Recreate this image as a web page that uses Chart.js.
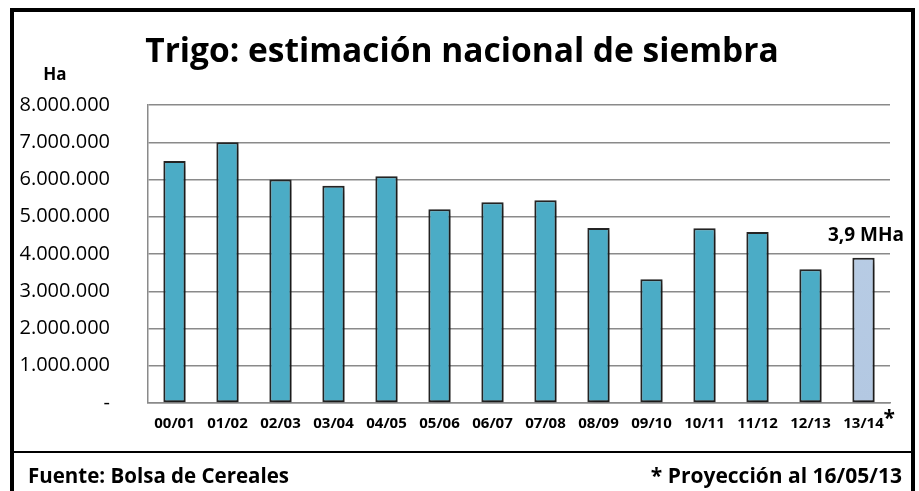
<!DOCTYPE html>
<html>
<head>
<meta charset="utf-8">
<script src="https://cdn.jsdelivr.net/npm/chart.js@4.4.1/dist/chart.umd.min.js"></script>
<style>
  html, body { margin: 0; padding: 0; background: #fff; }
  #wrap { position: relative; width: 919px; height: 491px; overflow: hidden; font-family: "Open Sans", sans-serif; }
  #frame { position: absolute; left: 10px; top: 8px; width: 897px; height: 500px; border: 4px solid #000; box-sizing: content-box; }
  #sep { position: absolute; left: 12px; top: 451px; width: 900px; height: 2px; background: #000; }
  #chartBox { position: absolute; left: 0; top: 0; width: 919px; height: 491px; }
  .foot { position: absolute; top: 461px; font-weight: bold; color: #000; line-height: 28px; white-space: nowrap; }
  #fuente { left: 28px; font-size: 20.5px; }
  #proy { right: 17px; font-size: 21px; }
</style>
</head>
<body>
<div id="wrap">
  <div id="chartBox"><canvas id="trigoChart" width="919" height="491"></canvas></div>
  <div id="frame"></div>
  <div id="sep"></div>
  <div class="foot" id="fuente">Fuente: Bolsa de Cereales</div>
  <div class="foot" id="proy">* Proyección al 16/05/13</div>
</div>
<script>
  const campaigns = ["00/01", "01/02", "02/03", "03/04", "04/05", "05/06", "06/07", "07/08", "08/09", "09/10", "10/11", "11/12", "12/13", "13/14"];
  const hectares = [6500000, 7000000, 6000000, 5830000, 6090000, 5200000, 5390000, 5440000, 4700000, 3320000, 4690000, 4590000, 3590000, 3900000];
  const yTicks = [0, 1000000, 2000000, 3000000, 4000000, 5000000, 6000000, 7000000, 8000000];
  const titleText = "Trigo: estimación nacional de siembra";
  const unitText = "Ha";
  const projectionLabel = "3,9 MHa";

  const fontFamily = '"Open Sans", sans-serif';
  const lastIndex = campaigns.length - 1;

  function fmtThousands(v) {
    if (v === 0) return "-";
    return String(v).replace(/\B(?=(\d{3})+(?!\d))/g, ".");
  }

  // shadow behind the bars
  const shadowPlugin = {
    id: "barShadow",
    beforeDatasetsDraw(chart) {
      const ctx = chart.ctx;
      ctx.save();
      ctx.shadowColor = "rgba(0,0,0,0.4)";
      ctx.shadowBlur = 7;
      ctx.shadowOffsetX = 3;
      ctx.shadowOffsetY = 3;
    },
    afterDatasetsDraw(chart) {
      chart.ctx.restore();
    }
  };

  const textPlugin = {
    id: "extraText",
    afterDraw(chart) {
      const ctx = chart.ctx;
      const x = chart.scales.x;
      const y = chart.scales.y;
      ctx.save();
      ctx.fillStyle = "#000";
      ctx.textBaseline = "middle";

      ctx.font = "bold 33.5px " + fontFamily;
      ctx.textAlign = "center";
      ctx.fillText(titleText, 462, 52);

      ctx.font = "bold 17px " + fontFamily;
      ctx.fillText(unitText, 55, 75);

      // label over the projected bar
      ctx.font = "bold 19px " + fontFamily;
      ctx.textAlign = "right";
      ctx.fillText(projectionLabel, 904, y.getPixelForValue(hectares[lastIndex]) - 22);

      // asterisk next to the last category
      ctx.font = "bold 21px " + fontFamily;
      ctx.textAlign = "left";
      ctx.fillText("*", x.getPixelForValue(lastIndex) + 20, 419);
      ctx.restore();
    }
  };

  const ctx = document.getElementById("trigoChart").getContext("2d");
  new Chart(ctx, {
    type: "bar",
    data: {
      labels: campaigns,
      datasets: [{
        label: "Ha",
        data: hectares,
        backgroundColor: (c) => {
          if (c.dataIndex !== lastIndex) return "#4BACC6";
          const area = c.chart.chartArea;
          if (!area) return "#B9CDE5";
          const g = c.chart.ctx.createLinearGradient(0, area.top, 0, area.bottom);
          g.addColorStop(0, "#D0DDEE");
          g.addColorStop(0.3, "#B9CDE5");
          g.addColorStop(1, "#B3C8E2");
          return g;
        },
        borderColor: "#262626",
        borderWidth: 2,
        borderSkipped: false,
        barPercentage: 0.42,
        categoryPercentage: 1.0
      }]
    },
    options: {
      responsive: false,
      animation: false,
      layout: { padding: { top: 105, right: 29, left: 0, bottom: 0 } },
      plugins: {
        legend: { display: false },
        tooltip: { enabled: false }
      },
      scales: {
        x: {
          grid: { display: false, drawTicks: false },
          border: { display: true, color: "#8a8a8a", width: 1.5 },
          ticks: {
            color: "#000",
            padding: 12,
            font: { family: fontFamily, size: 15, weight: "bold" },
            maxRotation: 0,
            autoSkip: false
          },
          afterFit(scale) { scale.height = 88; }
        },
        y: {
          min: 0,
          max: 8000000,
          afterBuildTicks(scale) { scale.ticks = yTicks.map(v => ({ value: v })); },
          grid: { color: "#8a8a8a", lineWidth: 1.5, drawTicks: false },
          border: { display: true, color: "#8a8a8a", width: 1.5 },
          ticks: {
            color: "#000",
            padding: 38,
            font: { family: fontFamily, size: 20 },
            callback: (v) => fmtThousands(v)
          },
          afterFit(scale) { scale.width = 148; }
        }
      }
    },
    plugins: [shadowPlugin, textPlugin]
  });
</script>
</body>
</html>
